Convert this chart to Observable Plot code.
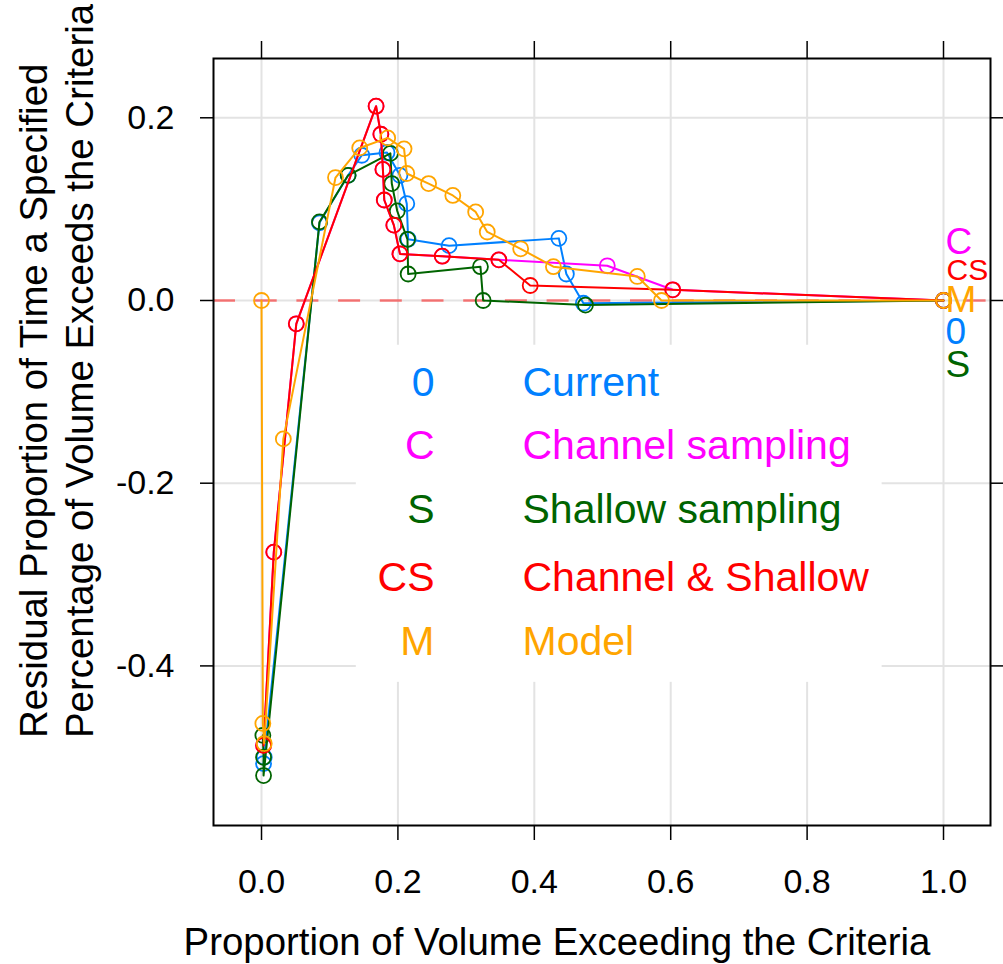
<!DOCTYPE html>
<html>
<head>
<meta charset="utf-8">
<script src="https://cdn.jsdelivr.net/npm/d3@7"></script>
<script src="https://cdn.jsdelivr.net/npm/@observablehq/plot@0.6"></script>
<style>
  html, body { margin: 0; padding: 0; background: #ffffff; }
  #chart svg { display: block; }
</style>
</head>
<body>
<div id="chart"></div>
<script>
// ---- Data ----
const seriesKeys   = ["0", "C", "S", "CS", "M"];
const seriesNames  = ["Current", "Channel sampling", "Shallow sampling", "Channel & Shallow", "Model"];
const seriesColors = ["#0080ff", "#ff00ff", "#006400", "#ff0000", "#ffa500"];

const currentX = [0.004, 0.003, 0.085, 0.127, 0.147, 0.184, 0.203, 0.213, 0.215, 0.275, 0.436, 0.447, 0.472, 1.0];
const currentY = [-0.500, -0.507, 0.085, 0.137, 0.159, 0.162, 0.137, 0.106, 0.067, 0.060, 0.068, 0.029, -0.003, 0.0];

const channelX = [0.003, 0.018, 0.051, 0.168, 0.175, 0.178, 0.180, 0.194, 0.203, 0.265, 0.348, 0.507, 0.603, 1.0];
const channelY = [-0.487, -0.2755, -0.0255, 0.2127, 0.182, 0.1435, 0.110, 0.0825, 0.051, 0.0485, 0.0445, 0.038, 0.0117, 0.0];

const shallowX = [0.002, 0.003, 0.003, 0.085, 0.127, 0.189, 0.191, 0.199, 0.214, 0.215, 0.321, 0.325, 0.475, 1.0];
const shallowY = [-0.476, -0.500, -0.520, 0.086, 0.137, 0.161, 0.128, 0.098, 0.067, 0.029, 0.037, 0.0, -0.005, 0.0];

const bothX = [0.003, 0.018, 0.051, 0.168, 0.175, 0.178, 0.180, 0.194, 0.203, 0.265, 0.348, 0.394, 0.603, 1.0];
const bothY = [-0.487, -0.2755, -0.0255, 0.2127, 0.182, 0.1435, 0.110, 0.0825, 0.051, 0.0485, 0.0445, 0.0164, 0.0117, 0.0];

const modelX = [0.0, 0.002, 0.004, 0.032, 0.1085, 0.144, 0.185, 0.209, 0.213, 0.245, 0.2805, 0.314, 0.331, 0.380, 0.428, 0.551, 0.5865, 1.0];
const modelY = [0.0, -0.463, -0.485, -0.1515, 0.1346, 0.167, 0.178, 0.166, 0.139, 0.128, 0.115, 0.097, 0.075, 0.0566, 0.037, 0.0263, 0.0, 0.0];

const xTicks = [0, 0.2, 0.4, 0.6, 0.8, 1.0];
const yTicks = [-0.4, -0.2, 0, 0.2];

// end-of-line labels at the right edge
const endKeys = ["C", "CS", "M", "0", "S"];
const endY    = [0.0635, 0.033, 0.0, -0.035, -0.071];

// ---- Build table ----
const seriesX = [currentX, channelX, shallowX, bothX, modelX];
const seriesY = [currentY, channelY, shallowY, bothY, modelY];
const rows = seriesKeys.flatMap((k, i) =>
  seriesX[i].map((x, j) => ({ key: k, x, y: seriesY[i][j] })));
const colorOf = Object.fromEntries(seriesKeys.map((k, i) => [k, seriesColors[i]]));
const endLabels = endKeys.map((k, i) => ({ key: k, y: endY[i] }));

// ---- Layout ----
const W = 1003, H = 964;
const mL = 213, mR = 13, mT = 58, mB = 139;
const font = "Liberation Sans, Arial, Helvetica, sans-serif";
const legendRowsY = [382, 445, 509, 577, 641];

const seriesMarks = seriesKeys.flatMap((k, i) => {
  const d = rows.filter(r => r.key === k);
  return [
    Plot.line(d, { x: "x", y: "y", stroke: seriesColors[i], strokeWidth: 2 }),
    Plot.dot(d, { x: "x", y: "y", r: 7.5, stroke: seriesColors[i], strokeWidth: 1.8, fill: "none" })
  ];
});

const legendMarks = seriesKeys.flatMap((k, i) => [
  Plot.text([k], { frameAnchor: "top-left", dx: 434 - mL, dy: legendRowsY[i] - mT,
    text: d => d, fill: seriesColors[i], fontSize: 41, textAnchor: "end", lineAnchor: "middle" }),
  Plot.text([seriesNames[i]], { frameAnchor: "top-left", dx: 522 - mL, dy: legendRowsY[i] - mT,
    text: d => d, fill: seriesColors[i], fontSize: 41, textAnchor: "start", lineAnchor: "middle" })
]);

const fmt = d => d.toFixed(1);

const chart = Plot.plot({
  width: W, height: H,
  marginLeft: mL, marginRight: mR, marginTop: mT, marginBottom: mB,
  style: { fontFamily: font, background: "#ffffff", color: "#000000" },
  x: { domain: [-0.0704, 1.0689], label: null },
  y: { domain: [-0.5747, 0.2649], label: null },
  marks: [
    Plot.gridX(xTicks, { stroke: "#e3e3e3", strokeOpacity: 1, strokeWidth: 2 }),
    Plot.gridY(yTicks, { stroke: "#e3e3e3", strokeOpacity: 1, strokeWidth: 2 }),
    Plot.rect([0], { x1: 0.139, x2: 0.91, y1: -0.049, y2: -0.418, fill: "#ffffff" }),
    Plot.ruleY([0], { stroke: "#ff0000", strokeOpacity: 0.5, strokeWidth: 2.5, strokeDasharray: "22,19.7" }),
    ...seriesMarks,
    Plot.text(endLabels.filter(d => d.key !== "CS"), { x: () => 1, y: "y", dx: 2, text: "key",
      fill: d => colorOf[d.key], fontSize: 37, textAnchor: "start", lineAnchor: "middle" }),
    Plot.text(endLabels.filter(d => d.key === "CS"), { x: () => 1, y: "y", dx: 3, text: "key",
      fill: d => colorOf[d.key], fontSize: 30, textAnchor: "start", lineAnchor: "middle" }),
    ...legendMarks,
    Plot.frame({ stroke: "#000000", strokeWidth: 2 }),
    Plot.axisX(xTicks, { anchor: "bottom", tickSize: 15, tickPadding: 28, tickFormat: fmt, fontSize: 34, strokeWidth: 1.5, label: null }),
    Plot.axisX(xTicks, { anchor: "top", tickSize: 18, tickFormat: () => "", strokeWidth: 1.5, label: null }),
    Plot.axisY(yTicks, { anchor: "left", tickSize: 13, tickPadding: 26, tickFormat: fmt, fontSize: 34, strokeWidth: 1.5, label: null }),
    Plot.axisY(yTicks, { anchor: "right", tickSize: 13, tickFormat: () => "", strokeWidth: 1.5, label: null }),
    Plot.text(["Proportion of Volume Exceeding the Criteria"], { frameAnchor: "bottom", dx: -45, dy: 117,
      text: d => d, fontSize: 38.4, fill: "#000000", textAnchor: "middle", lineAnchor: "middle" }),
    Plot.text(["Residual Proportion of Time a Specified\nPercentage of Volume Exceeds the Criteria"], {
      frameAnchor: "left", dx: -158, dy: 296, rotate: -90, lineHeight: 1.2,
      text: d => d, fontSize: 38.4, fill: "#000000", textAnchor: "start", lineAnchor: "middle" })
  ]
});
document.getElementById("chart").appendChild(chart);
</script>
</body>
</html>
